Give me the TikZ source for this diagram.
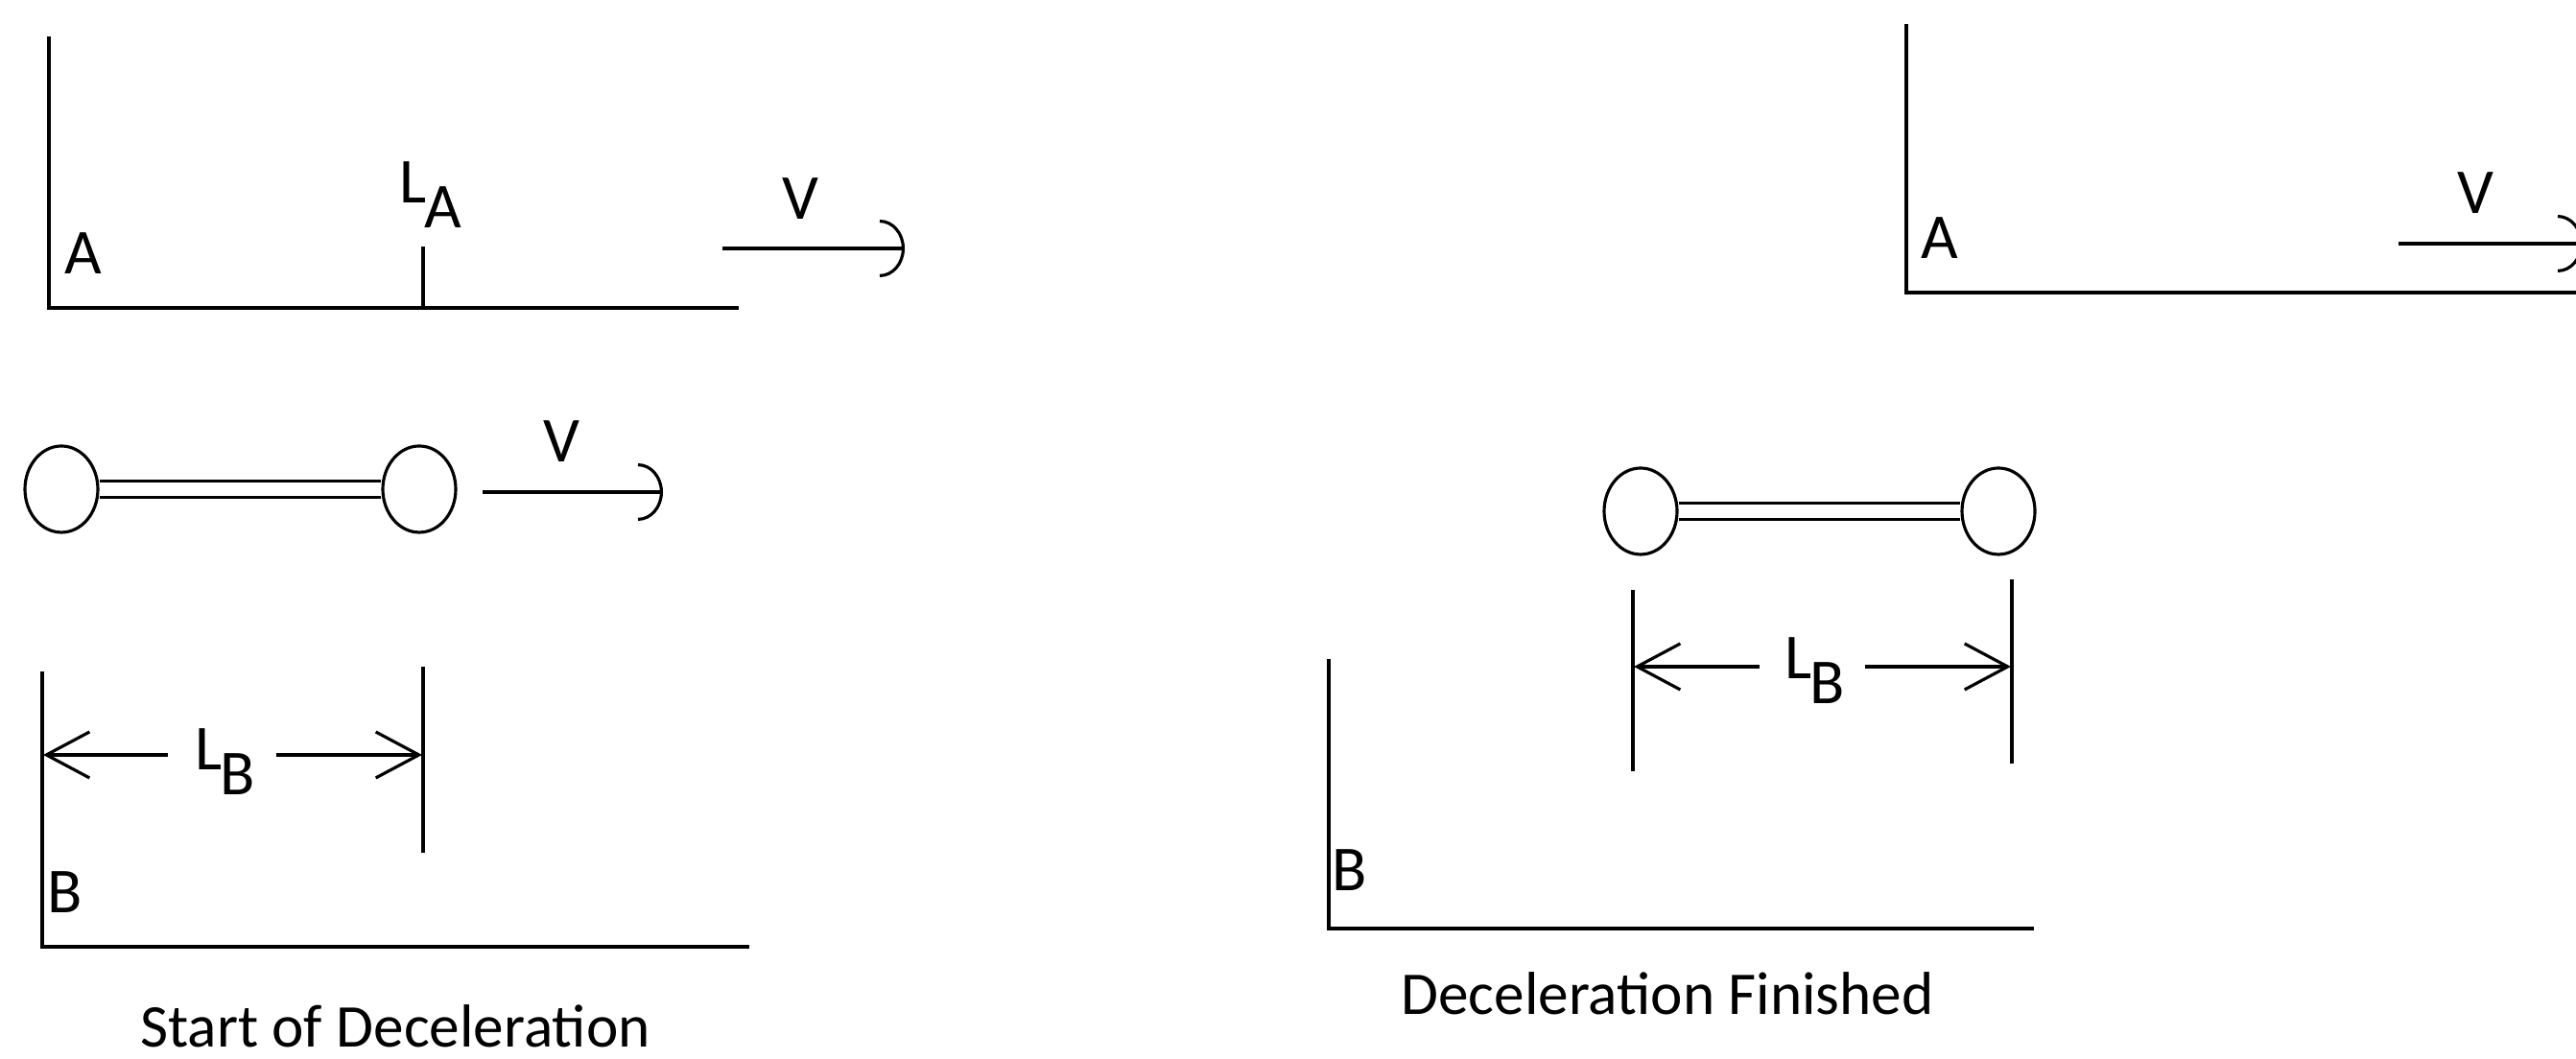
\documentclass[tikz,border=0pt]{standalone}
\usepackage{fontspec}
\setmainfont{Carlito}
\usetikzlibrary{arrows.meta, shapes.geometric}

\newcommand{\lsub}[1]{L\kern-0.02cm\raisebox{-0.26cm}{#1}}

\begin{document}
\begin{tikzpicture}[
    every node/.style={font=\fontsize{19}{22}\selectfont, inner sep=0pt},
    axis/.style={line width=1.2pt},
    tick/.style={line width=0.9pt},
    vel/.style={-{Arc Barb[length=2.6mm, width=6mm, line width=0.9pt]}, line width=1.1pt},
    dim/.style={-{Straight Barb[length=4.5mm, width=4.8mm]}, line width=0.9pt},
    ball/.style={ellipse, draw, line width=0.9pt, minimum width=0.76cm, minimum height=0.9cm},
    rod/.style={double, double distance=0.14cm, line width=0.8pt},
    lbl/.style={anchor=base},
    title/.style={anchor=base, font=\fontsize{18}{22}\selectfont}
]

\path[use as bounding box] (0, 0) rectangle (26.85, 11.04);
\clip (0, 0) rectangle (26.85, 11.04);

% ============ START OF DECELERATION (LEFT) ============
% Frame A
\draw[axis] (0.51, 10.66) -- (0.51, 7.83) -- (7.70, 7.83);
\draw[tick] (4.41, 7.83) -- (4.41, 8.47);
\node[lbl] (A1) at (0.87, 8.18) {A};
\node[anchor=base west] (LA) at (4.16, 8.92) {\lsub{A}};

% Velocity of frame A
\coordinate (vA1s) at (7.53, 8.45);
\coordinate (vA1e) at (9.43, 8.45);
\draw[vel] (vA1s) -- (vA1e);
\node[lbl] (V1) at (8.34, 8.75) {V};

% Rod
\node[ball] (ball1) at (0.64, 5.94) {};
\node[ball] (ball2) at (4.37, 5.94) {};
\draw[rod] (ball1) -- (ball2);

\coordinate (vB1s) at (5.03, 5.91);
\coordinate (vB1e) at (6.91, 5.91);
\draw[vel] (vB1s) -- (vB1e);
\node[lbl] (V2) at (5.85, 6.22) {V};

% Frame B
\draw[axis] (0.44, 4.04) -- (0.44, 1.17) -- (7.81, 1.17);
\draw[tick] (4.41, 4.09) -- (4.41, 2.15);
\node[lbl] (B1) at (0.675, 1.52) {B};

% Length L_B
\node[anchor=base west] (LB1) at (2.03, 3.01) {\lsub{B}};
\coordinate (dL1s) at (1.75, 3.17);
\coordinate (dL1e) at (0.45, 3.17);
\coordinate (dR1s) at (2.88, 3.17);
\coordinate (dR1e) at (4.40, 3.17);
\draw[dim] (dL1s) -- (dL1e);
\draw[dim] (dR1s) -- (dR1e);

\node[title] (cap1) at (4.12, 0.12) {Start of Deceleration};

% ============ DECELERATION FINISHED (RIGHT) ============
% Frame A
\draw[axis] (19.87, 10.79) -- (19.87, 7.99) -- (27.00, 7.99);
\node[lbl] (A2) at (20.22, 8.34) {A};

\coordinate (vA2s) at (25.00, 8.50);
\coordinate (vA2e) at (26.92, 8.50);
\draw[vel] (vA2s) -- (vA2e);
\node[lbl] (V3) at (25.80, 8.81) {V};

% Rod
\node[ball] (ball3) at (17.10, 5.71) {};
\node[ball] (ball4) at (20.83, 5.71) {};
\draw[rod] (ball3) -- (ball4);

% Length L_B
\draw[tick] (17.02, 4.89) -- (17.02, 3.00);
\draw[tick] (20.97, 5.00) -- (20.97, 3.08);
\node[anchor=base west] (LB2) at (18.60, 3.96) {\lsub{B}};
\coordinate (dL2s) at (18.34, 4.09);
\coordinate (dL2e) at (17.03, 4.09);
\coordinate (dR2s) at (19.44, 4.09);
\coordinate (dR2e) at (20.96, 4.09);
\draw[dim] (dL2s) -- (dL2e);
\draw[dim] (dR2s) -- (dR2e);

% Frame B
\draw[axis] (13.85, 4.17) -- (13.85, 1.36) -- (21.20, 1.36);
\node[lbl] (B2) at (14.07, 1.75) {B};

\node[title] (cap2) at (17.38, 0.46) {Deceleration Finished};

\end{tikzpicture}
\end{document}
